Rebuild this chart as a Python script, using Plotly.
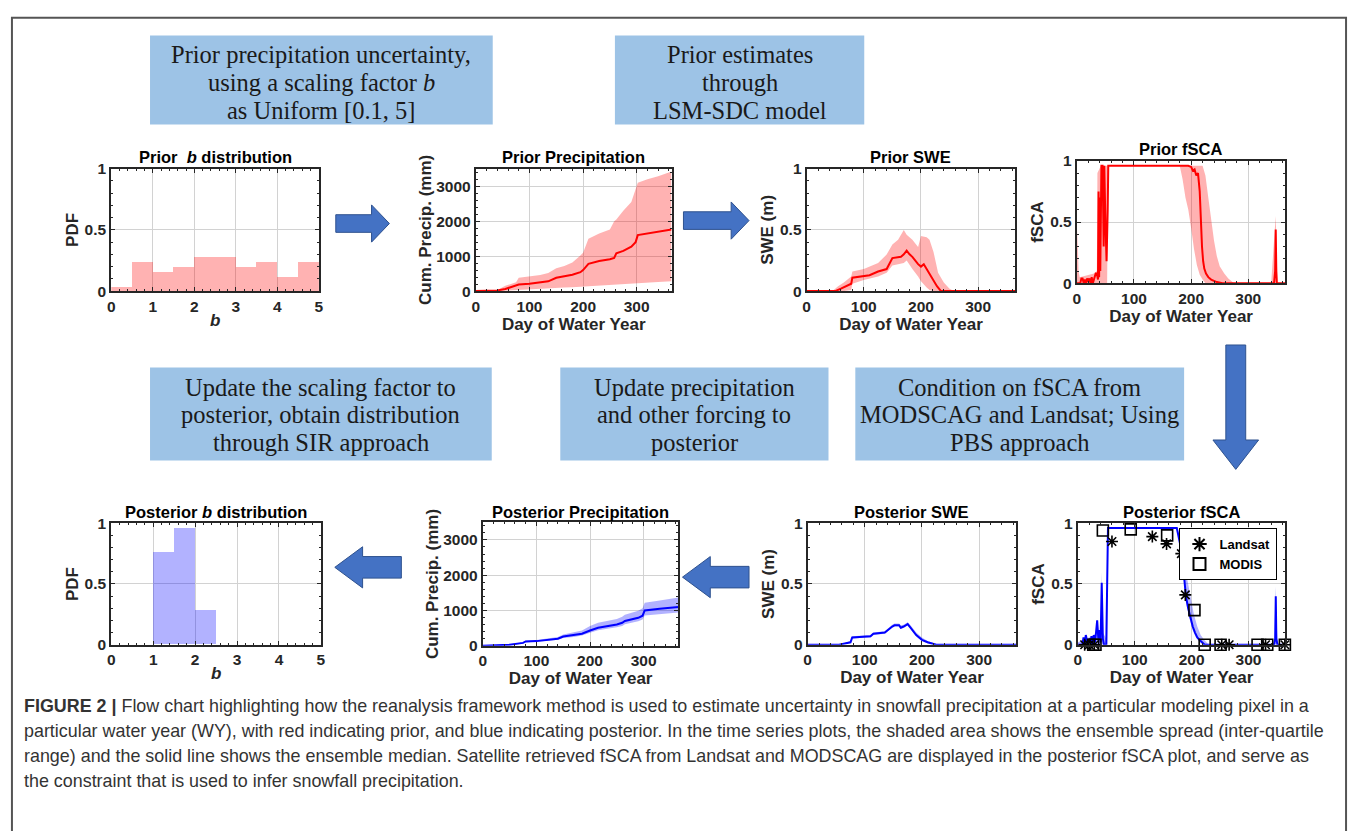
import plotly.graph_objects as go

W, H = 1357, 831

# ---------------- data ----------------
b_edges_prior = [0, 0.5, 1, 1.5, 2, 2.5, 3, 3.5, 4, 4.5]
b_pdf_prior = [0.04, 0.24, 0.16, 0.20, 0.28, 0.28, 0.20, 0.24, 0.12, 0.24]
b_edges_post = [1.0, 1.5, 2.0]
b_pdf_post = [0.76, 0.96, 0.28]

prior_precip_day = [0, 40, 55, 75, 80, 100, 120, 135, 150, 165, 180, 195, 200, 210, 230, 250, 258, 262, 275, 290, 298, 302, 320, 340, 365]
prior_precip_med = [0, 20, 60, 150, 190, 210, 240, 280, 380, 420, 470, 540, 600, 780, 860, 910, 950, 1080, 1150, 1270, 1400, 1600, 1650, 1690, 1760]
prior_precip_q75 = [0, 30, 150, 250, 380, 420, 460, 520, 650, 720, 820, 1020, 1100, 1500, 1650, 1760, 2000, 2050, 2300, 2550, 2900, 3100, 3200, 3280, 3420]
prior_precip_q25 = [0, 0, 10, 25, 30, 45, 60, 75, 90, 100, 110, 120, 125, 140, 150, 165, 170, 180, 190, 200, 210, 220, 240, 260, 280]

post_precip_day = [0, 30, 50, 75, 80, 100, 120, 140, 150, 170, 185, 200, 215, 250, 260, 265, 290, 298, 302, 330, 365]
post_precip_med = [0, 10, 30, 80, 120, 130, 160, 200, 260, 300, 340, 430, 510, 600, 650, 700, 790, 850, 1000, 1050, 1100]
post_precip_q75 = [0, 12, 40, 100, 150, 160, 200, 250, 320, 380, 430, 560, 650, 760, 820, 880, 990, 1060, 1220, 1280, 1370]
post_precip_q25 = [0, 8, 22, 65, 100, 110, 130, 170, 220, 250, 290, 370, 440, 520, 560, 610, 690, 740, 860, 900, 940]

prior_swe_day = [0, 50, 60, 70, 78, 80, 100, 110, 125, 140, 150, 160, 165, 170, 175, 180, 185, 195, 200, 205, 210, 215, 220, 228, 235, 365]
prior_swe_med = [0, 0, 0.02, 0.04, 0.06, 0.11, 0.12, 0.13, 0.16, 0.18, 0.27, 0.28, 0.28, 0.30, 0.33, 0.30, 0.28, 0.22, 0.20, 0.22, 0.18, 0.15, 0.10, 0.04, 0, 0]
prior_swe_band_day = [0, 45, 55, 65, 78, 80, 100, 125, 140, 150, 160, 170, 175, 185, 195, 200, 210, 215, 222, 230, 240, 250, 258, 365]
prior_swe_q75 = [0, 0, 0.04, 0.07, 0.12, 0.16, 0.18, 0.23, 0.30, 0.38, 0.42, 0.50, 0.46, 0.42, 0.36, 0.45, 0.44, 0.42, 0.32, 0.15, 0.07, 0.02, 0, 0]
prior_swe_q25 = [0, 0, 0, 0, 0.01, 0.06, 0.09, 0.12, 0.15, 0.21, 0.22, 0.23, 0.25, 0.18, 0.12, 0.08, 0.03, 0.01, 0, 0, 0, 0, 0, 0]

post_swe_day = [0, 55, 65, 75, 78, 100, 110, 115, 135, 148, 152, 160, 163, 168, 175, 180, 190, 200, 210, 225, 365]
post_swe_med = [0, 0, 0.01, 0.02, 0.06, 0.07, 0.07, 0.09, 0.10, 0.15, 0.16, 0.16, 0.14, 0.15, 0.17, 0.14, 0.08, 0.04, 0.02, 0, 0]
post_swe_q75 = [0, 0, 0.015, 0.03, 0.07, 0.08, 0.08, 0.10, 0.11, 0.165, 0.175, 0.175, 0.16, 0.165, 0.185, 0.16, 0.10, 0.06, 0.03, 0.005, 0]
post_swe_q25 = [0, 0, 0.005, 0.015, 0.05, 0.06, 0.06, 0.08, 0.09, 0.14, 0.15, 0.15, 0.13, 0.14, 0.16, 0.125, 0.07, 0.03, 0.01, 0, 0]

prior_fsca_day = [0, 6, 8, 10, 12, 14, 16, 18, 20, 22, 24, 26, 28, 33, 35, 37, 38, 39, 40, 41, 43, 45, 47, 48, 50, 52, 54, 55,
                  195, 200, 203, 206, 209, 212, 215, 217, 219, 221, 223, 226, 230, 235, 245, 255, 345, 347, 348, 349, 350, 365]
prior_fsca_med = [0, 0, 0.04, 0.04, 0, 0.03, 0, 0.04, 0.01, 0.04, 0, 0.05, 0, 0.08, 0.08, 0.03, 0.75, 0.05, 0.70, 0.10, 0.96, 0.96, 0.30, 0.96, 0.50, 0.18, 0.60, 0.96,
                  0.96, 0.95, 0.92, 0.93, 0.88, 0.90, 0.75, 0.50, 0.30, 0.18, 0.12, 0.08, 0.05, 0.03, 0.01, 0, 0, 0.10, 0.44, 0.10, 0, 0]
prior_fsca_up_day = [0, 1, 3, 5, 30, 35, 36, 42, 220, 225, 230, 235, 240, 245, 250, 258, 265, 275, 340, 345, 348, 351, 365]
prior_fsca_q75 = [0, 0.45, 0.10, 0.05, 0.08, 0.10, 0.90, 0.96, 0.96, 0.88, 0.70, 0.50, 0.35, 0.22, 0.14, 0.08, 0.04, 0, 0, 0.35, 0.55, 0, 0]
prior_fsca_lo_day = [0, 53, 55, 180, 185, 190, 195, 200, 205, 210, 215, 220, 225, 365]
prior_fsca_q25 = [0, 0, 0.96, 0.96, 0.85, 0.70, 0.60, 0.45, 0.28, 0.15, 0.07, 0.03, 0, 0]

post_fsca_day = [0, 8, 10, 12, 14, 18, 20, 22, 24, 26, 28, 30, 32, 34, 36, 38, 40, 42, 44, 46, 50, 52, 53,
                 174, 178, 182, 186, 190, 194, 198, 202, 206, 210, 214, 218, 223, 345, 347, 348, 349, 351, 365]
post_fsca_med = [0, 0, 0.06, 0, 0.08, 0, 0.05, 0, 0.07, 0, 0.08, 0.02, 0.10, 0.20, 0.05, 0.12, 0.02, 0.51, 0.05, 0, 0, 0.50, 0.96,
                 0.96, 0.88, 0.78, 0.60, 0.40, 0.30, 0.22, 0.15, 0.10, 0.06, 0.04, 0.02, 0, 0, 0.05, 0.40, 0.05, 0, 0]
post_fsca_up_day = [0, 40, 42, 44, 50, 53, 174, 180, 186, 192, 198, 204, 210, 216, 222, 230, 345, 348, 351, 365]
post_fsca_q75 = [0.02, 0.10, 0.60, 0.10, 0.05, 0.96, 0.96, 0.90, 0.75, 0.55, 0.40, 0.25, 0.15, 0.08, 0.04, 0, 0, 0.48, 0, 0]
post_fsca_lo_day = [0, 52, 53, 174, 178, 184, 190, 196, 202, 208, 214, 220, 365]
post_fsca_q25 = [0, 0, 0.96, 0.96, 0.85, 0.65, 0.35, 0.22, 0.12, 0.06, 0.02, 0, 0]

landsat_day = [12, 20, 29, 60, 131, 156, 182, 189, 253, 266, 330, 364]
landsat_fsca = [0, 0, 0, 0.85, 0.89, 0.83, 0.75, 0.41, 0, 0, 0, 0]
modis_day = [27, 31, 44, 93, 157, 205, 223, 251, 316, 333, 364]
modis_fsca = [0, 0, 0.94, 0.95, 0.90, 0.285, 0, 0, 0, 0, 0]

# ---------------- layout helpers ----------------
def dx(a, b):
    return [a / W, b / W]

def dy(top, bottom):
    return [1 - bottom / H, 1 - top / H]

def px(x):
    return x / W

def py(y):
    return 1 - y / H

AX = "#262626"
FONT = "Liberation Sans"
RED_FILL = "rgba(255,0,0,0.3)"
BLUE_FILL = "rgba(0,0,255,0.3)"

panels = [
    # (x0, x1, top, bottom, title, title_y)
    (108, 317, 163, 288, "Prior&nbsp; <i>b</i> distribution", 151),
    (475, 672, 163, 288, "Prior Precipitation", 151),
    (808, 1018, 163, 288, "Prior SWE", 151),
    (1080, 1290, 155, 280, "Prior fSCA", 143),
    (108, 319, 525, 649, "Posterior <i>b</i> distribution", 513),
    (482, 679, 524, 650, "Posterior Precipitation", 513),
    (809, 1019, 525, 649, "Posterior SWE", 513),
    (1081, 1290, 525, 649, "Posterior fSCA", 514),
]

fig = go.Figure()

def axname(i, kind):
    return kind if i == 1 else f"{kind}{i}"

def add_band(i, xu, yu, xl, yl, color):
    fig.add_trace(go.Scatter(x=list(xu) + list(xl)[::-1], y=list(yu) + list(yl)[::-1],
                             fill="toself", fillcolor=color, line=dict(width=0),
                             mode="lines", hoverinfo="skip", showlegend=False,
                             xaxis=axname(i, "x"), yaxis=axname(i, "y")))

def add_line(i, x, y, color):
    fig.add_trace(go.Scatter(x=x, y=y, mode="lines", line=dict(color=color, width=2),
                             showlegend=False, xaxis=axname(i, "x"), yaxis=axname(i, "y")))

def add_hist(i, left, h, color):
    fig.add_trace(go.Bar(x=[l + 0.25 for l in left], y=h, width=0.5, marker=dict(color=color, line=dict(width=0)),
                         showlegend=False, xaxis=axname(i, "x"), yaxis=axname(i, "y")))

add_hist(1, b_edges_prior, b_pdf_prior, RED_FILL)
add_hist(5, b_edges_post, b_pdf_post, BLUE_FILL)
add_band(2, prior_precip_day, prior_precip_q75, prior_precip_day, prior_precip_q25, RED_FILL)
add_line(2, prior_precip_day, prior_precip_med, "red")
add_band(6, post_precip_day, post_precip_q75, post_precip_day, post_precip_q25, BLUE_FILL)
add_line(6, post_precip_day, post_precip_med, "blue")
add_band(3, prior_swe_band_day, prior_swe_q75, prior_swe_band_day, prior_swe_q25, RED_FILL)
add_line(3, prior_swe_day, prior_swe_med, "red")
add_band(7, post_swe_day, post_swe_q75, post_swe_day, post_swe_q25, BLUE_FILL)
add_line(7, post_swe_day, post_swe_med, "blue")
add_band(4, prior_fsca_up_day, prior_fsca_q75, prior_fsca_lo_day, prior_fsca_q25, RED_FILL)
add_line(4, prior_fsca_day, prior_fsca_med, "red")
add_band(8, post_fsca_up_day, post_fsca_q75, post_fsca_lo_day, post_fsca_q25, BLUE_FILL)
add_line(8, post_fsca_day, post_fsca_med, "blue")
fig.add_trace(go.Scatter(x=landsat_day, y=landsat_fsca, mode="markers", name="Landsat", cliponaxis=False,
                         marker=dict(symbol="asterisk-open", size=10, color="black", line=dict(color="black", width=1.6)),
                         xaxis="x8", yaxis="y8"))
fig.add_trace(go.Scatter(x=modis_day, y=modis_fsca, mode="markers", name="MODIS", cliponaxis=False,
                         marker=dict(symbol="square-open", size=11, color="black", line=dict(color="black", width=1.6)),
                         xaxis="x8", yaxis="y8"))

layout = dict(width=W, height=H, margin=dict(l=0, r=0, t=0, b=0),
              paper_bgcolor="white", plot_bgcolor="white", bargap=0,
              font=dict(family=FONT, color=AX),
              legend=dict(x=px(1281), y=py(530), xanchor="right", yanchor="top",
                          bgcolor="white", bordercolor="black", borderwidth=1,
                          font=dict(family=FONT, size=13, color="black", weight="bold"),
                          tracegroupgap=0, itemsizing="constant", itemwidth=30))

def axis_common():
    return dict(showline=True, linecolor=AX, linewidth=2, mirror="ticks", ticks="inside",
                ticklen=4, tickwidth=1, tickcolor=AX, showgrid=True, gridcolor="#d2d2d2", gridwidth=1,
                zeroline=False, tickfont=dict(family=FONT, size=15.5, color=AX, weight="bold"),
                title_font=dict(family=FONT, size=17, color=AX, weight="bold"))

MINOR = dict(ticks="inside", ticklen=2, tickcolor=AX, showgrid=False)

annotations = []
for i, (x0, x1, top, bot, title, ty) in enumerate(panels, start=1):
    xa = axis_common()
    ya = axis_common()
    xa.update(domain=dx(x0, x1), anchor=axname(i, "y"))
    ya.update(domain=dy(top, bot), anchor=axname(i, "x"))
    if i in (1, 5):
        xa.update(range=[0, 5], tickvals=[0, 1, 2, 3, 4, 5], minor=dict(dtick=0.2, **MINOR),
                  title=dict(text="<i>b</i>", standoff=0))
        ya.update(range=[0, 1], tickvals=[0, 0.5, 1], ticktext=["0", "0.5", "1"],
                  minor=dict(dtick=0.1, **MINOR), title=dict(text="PDF", standoff=2))
    else:
        xa.update(range=[0, 365], tickvals=[0, 100, 200, 300], minor=dict(dtick=20, **MINOR),
                  title=dict(text="Day of Water Year", standoff=0))
        if i in (2, 6):
            ya.update(range=[0, 3500], tickvals=[0, 1000, 2000, 3000],
                      minor=dict(dtick=200, **MINOR), title=dict(text="Cum. Precip. (mm)", standoff=0))
        else:
            ya.update(range=[0, 1], tickvals=[0, 0.5, 1], ticktext=["0", "0.5", "1"],
                      minor=dict(dtick=0.1, **MINOR),
                      title=dict(text="SWE (m)" if i in (3, 7) else "fSCA", standoff=2))
    layout[axname(i, "xaxis")] = xa
    layout[axname(i, "yaxis")] = ya
    annotations.append(dict(text=f"<b>{title}</b>", x=px((x0 + x1) / 2), y=py(ty), xref="paper", yref="paper",
                            showarrow=False, xanchor="center", yanchor="middle",
                            font=dict(family=FONT, size=16.5, color="black")))

# ---------------- boxes ----------------
BOX = "#9DC3E6"
boxes = [
    (147, 492, 27, 118, ["Prior precipitation uncertainty,", "using a scaling factor <i>b</i>", "as Uniform [0.1, 5]"], [46, 75, 104]),
    (615, 866, 27, 118, ["Prior estimates", "through", "LSM-SDC model"], [46, 75, 104]),
    (147, 491, 366, 461, ["Update the scaling factor to", "posterior, obtain distribution", "through SIR approach"], [386, 414, 443]),
    (560, 830, 366, 461, ["Update precipitation", "and other forcing to", "posterior"], [386, 414, 443]),
    (857, 1188, 366, 461, ["Condition on fSCA from", "MODSCAG and Landsat; Using", "PBS approach"], [386, 414, 443]),
]
shapes = []
for (x0, x1, y0, y1, lines, ys) in boxes:
    shapes.append(dict(type="rect", xref="paper", yref="paper", x0=px(x0), x1=px(x1), y0=py(y1), y1=py(y0),
                       fillcolor=BOX, line=dict(width=0), layer="below"))
    for txt, yy in zip(lines, ys):
        annotations.append(dict(text=txt, x=px((x0 + x1) / 2), y=py(yy), xref="paper", yref="paper",
                                showarrow=False, xanchor="center", yanchor="middle", align="center",
                                font=dict(family="Liberation Serif", size=24.5, color="#1a1a1a")))

# ---------------- arrows ----------------
def path(points):
    return "M " + " L ".join(f"{px(x):.5f},{py(y):.5f}" for x, y in points) + " Z"

def right_arrow(x0, x1, yc, body=18, head=38, hl=18):
    xh = x1 - hl
    return [(x0, yc - body / 2), (xh, yc - body / 2), (xh, yc - head / 2), (x1, yc), (xh, yc + head / 2),
            (xh, yc + body / 2), (x0, yc + body / 2)]

def left_arrow(x0, x1, yc, body=22, head=42, hl=28):
    xh = x0 + hl
    return [(x1, yc - body / 2), (xh, yc - body / 2), (xh, yc - head / 2), (x0, yc), (xh, yc + head / 2),
            (xh, yc + body / 2), (x1, yc + body / 2)]

def down_arrow(xc, y0, y1, body=20, head=46, hl=30):
    yh = y1 - hl
    return [(xc - body / 2, y0), (xc - body / 2, yh), (xc - head / 2, yh), (xc, y1), (xc + head / 2, yh),
            (xc + body / 2, yh), (xc + body / 2, y0)]

ARROW = "#4472C4"
for pts in [right_arrow(334, 388, 219), right_arrow(684, 750, 216),
            down_arrow(1240, 343, 470), left_arrow(683, 750, 580), left_arrow(333, 400, 570)]:
    shapes.append(dict(type="path", xref="paper", yref="paper", path=path(pts), fillcolor=ARROW,
                       line=dict(color="#2F528F", width=1)))

# border
shapes.append(dict(type="path", xref="paper", yref="paper",
                   path=f"M {px(8)},{py(840)} L {px(8)},{py(9)} L {px(1351)},{py(9)} L {px(1351)},{py(840)}",
                   line=dict(color="#555555", width=2)))

# ---------------- caption ----------------
caption_lines = [
    "<b>FIGURE 2 |</b> Flow chart highlighting how the reanalysis framework method is used to estimate uncertainty in snowfall precipitation at a particular modeling pixel in a",
    "particular water year (WY), with red indicating prior, and blue indicating posterior. In the time series plots, the shaded area shows the ensemble spread (inter-quartile",
    "range) and the solid line shows the ensemble median. Satellite retrieved fSCA from Landsat and MODSCAG are displayed in the posterior fSCA plot, and serve as",
    "the constraint that is used to infer snowfall precipitation.",
]
for k, line in enumerate(caption_lines):
    annotations.append(dict(text=line, x=px(18), y=py(712 + 25.5 * k), xref="paper", yref="paper",
                            showarrow=False, xanchor="left", yanchor="middle", align="left",
                            font=dict(family=FONT, size=17.9, color="#333333")))

layout["annotations"] = annotations
layout["shapes"] = shapes
fig.update_layout(**layout)
fig.write_html("out.html")
